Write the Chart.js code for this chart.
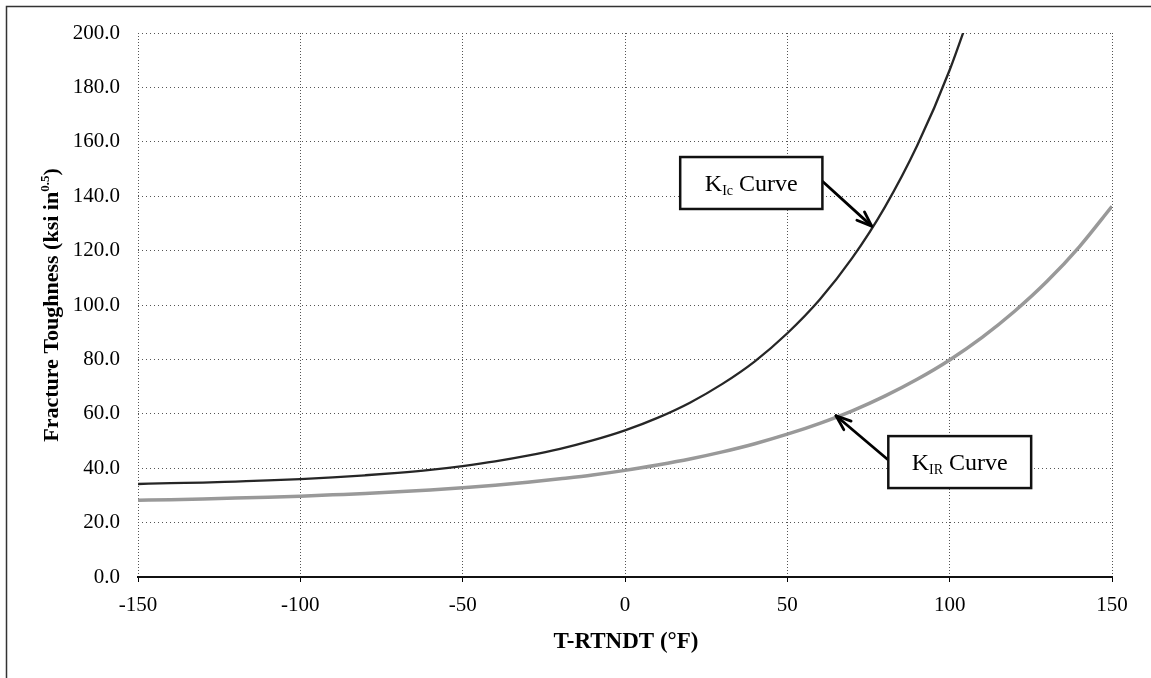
<!DOCTYPE html>
<html>
<head>
<meta charset="utf-8">
<title>Fracture Toughness Curves</title>
<script src="https://cdn.jsdelivr.net/npm/chart.js@4.4.1/dist/chart.umd.min.js"></script>
<style>
  html, body { margin: 0; padding: 0; background: #fff; }
  #wrap { width: 1151px; height: 678px; position: relative; }
  canvas { display: block; }
</style>
</head>
<body>
<div id="wrap"><canvas id="chart" width="1151" height="678"></canvas></div>
<script>
// Temperature relative to reference nil-ductility temperature, T - RTNDT (°F)
const temperatures = [-150, -140, -130, -120, -110, -100, -90, -80, -70, -60,
                      -50, -40, -30, -20, -10, 0, 10, 20, 30, 40,
                      50, 60, 70, 80, 90, 100, 110, 120, 130, 140, 150];

// K_Ic (static initiation toughness), ksi·in^0.5 — runs off the top past ~105 °F
const kIcValues = [34.2, 34.5, 34.7, 35.1, 35.5, 36.0, 36.6, 37.4, 38.3, 39.4,
                   40.8, 42.5, 44.6, 47.1, 50.2, 53.9, 58.5, 64.1, 71.0, 79.3,
                   89.6, 102.0, 117.3, 135.9, 158.6, 186.4, 220.3, null, null, null, null];

// K_IR (reference / arrest toughness), ksi·in^0.5
const kIrValues = [28.2, 28.4, 28.7, 29.0, 29.3, 29.7, 30.2, 30.7, 31.3, 32.0,
                   32.8, 33.7, 34.8, 36.1, 37.5, 39.2, 41.2, 43.4, 46.0, 49.0,
                   52.5, 56.5, 61.1, 66.5, 72.7, 79.8, 88.1, 97.7, 108.7, 121.5, 136.3];

// Axis ticks
const xTicks = [-150, -100, -50, 0, 50, 100, 150];
const yTicks = [0, 20, 40, 60, 80, 100, 120, 140, 160, 180, 200];

const SERIF = '"Liberation Serif", "Times New Roman", Times, serif';

function toPoints(xs, ys) {
  const pts = [];
  xs.forEach((x, i) => { if (ys[i] !== null) pts.push({ x: x, y: ys[i] }); });
  return pts;
}

// Callout boxes with arrows, placed in data coordinates
const callouts = [
  { main: 'K', sub: 'Ic', tail: ' Curve',
    box: { x1: 17.0, x2: 60.8, y1: 154.4, y2: 135.3 },
    from: 'right', fromY: 145.5, tip: { x: 76, y: 129 } },
  { main: 'K', sub: 'IR', tail: ' Curve',
    box: { x1: 81.1, x2: 125.1, y1: 51.8, y2: 32.7 },
    from: 'left', fromY: 43.0, tip: { x: 65, y: 59.3 } }
];

const decorPlugin = {
  id: 'decor',
  beforeDraw(chart) {
    const ctx = chart.ctx;
    ctx.save();
    ctx.fillStyle = '#fff';
    ctx.fillRect(0, 0, chart.width, chart.height);
    // outer frame (left and top edges)
    ctx.strokeStyle = '#333';
    ctx.lineWidth = 1.5;
    ctx.beginPath();
    ctx.moveTo(6.5, chart.height + 2);
    ctx.lineTo(6.5, 6.5);
    ctx.lineTo(chart.width + 2, 6.5);
    ctx.stroke();
    ctx.restore();
  },
  afterDraw(chart) {
    const ctx = chart.ctx;
    const area = chart.chartArea;
    const xs = chart.scales.x, ys = chart.scales.y;
    ctx.save();
    ctx.fillStyle = '#000';

    // y axis title with superscript exponent
    ctx.save();
    ctx.translate(58, (area.top + area.bottom) / 2);
    ctx.rotate(-Math.PI / 2);
    const big = 'bold 22px ' + SERIF, small = 'bold 13px ' + SERIF;
    const t1 = 'Fracture Toughness (ksi in', t2 = '0.5', t3 = ')';
    ctx.font = big; const w1 = ctx.measureText(t1).width, w3 = ctx.measureText(t3).width;
    ctx.font = small; const w2 = ctx.measureText(t2).width;
    let px = -(w1 + w2 + w3) / 2;
    ctx.textBaseline = 'alphabetic';
    ctx.textAlign = 'left';
    ctx.font = big; ctx.fillText(t1, px, 0); px += w1;
    ctx.font = small; ctx.fillText(t2, px, -9); px += w2;
    ctx.font = big; ctx.fillText(t3, px, 0);
    ctx.restore();

    // x axis title
    ctx.font = 'bold 23px ' + SERIF;
    ctx.textAlign = 'center';
    ctx.textBaseline = 'alphabetic';
    ctx.fillText('T-RTNDT (\u00B0F)', (area.left + area.right) / 2 + 1, 648);

    // callouts
    callouts.forEach(c => {
      const bx1 = xs.getPixelForValue(c.box.x1), bx2 = xs.getPixelForValue(c.box.x2);
      const by1 = ys.getPixelForValue(c.box.y1), by2 = ys.getPixelForValue(c.box.y2);
      const tx = xs.getPixelForValue(c.tip.x), ty = ys.getPixelForValue(c.tip.y);
      const sx = c.from === 'right' ? bx2 : bx1, sy = ys.getPixelForValue(c.fromY);

      // arrow shaft
      ctx.strokeStyle = '#000';
      ctx.lineWidth = 2.8;
      ctx.lineCap = 'round';
      ctx.beginPath();
      ctx.moveTo(sx, sy);
      ctx.lineTo(tx, ty);
      ctx.stroke();
      // arrow head
      const ang = Math.atan2(ty - sy, tx - sx);
      const len = 16, spread = 0.36;
      ctx.beginPath();
      ctx.moveTo(tx, ty);
      ctx.lineTo(tx - len * Math.cos(ang - spread), ty - len * Math.sin(ang - spread));
      ctx.moveTo(tx, ty);
      ctx.lineTo(tx - len * Math.cos(ang + spread), ty - len * Math.sin(ang + spread));
      ctx.stroke();

      // box
      ctx.fillStyle = '#fff';
      ctx.fillRect(bx1, by1, bx2 - bx1, by2 - by1);
      ctx.lineWidth = 2.5;
      ctx.strokeStyle = '#111';
      ctx.strokeRect(bx1, by1, bx2 - bx1, by2 - by1);

      // label with subscript
      const fMain = '24px ' + SERIF, fSub = '14px ' + SERIF;
      ctx.font = fMain; const m1 = ctx.measureText(c.main).width, m3 = ctx.measureText(c.tail).width;
      ctx.font = fSub; const m2 = ctx.measureText(c.sub).width;
      let lx = (bx1 + bx2) / 2 - (m1 + m2 + m3) / 2;
      const base = (by1 + by2) / 2 + 8;
      ctx.fillStyle = '#000';
      ctx.textAlign = 'left';
      ctx.font = fMain; ctx.fillText(c.main, lx, base); lx += m1;
      ctx.font = fSub; ctx.fillText(c.sub, lx, base + 4); lx += m2;
      ctx.font = fMain; ctx.fillText(c.tail, lx, base);
    });
    ctx.restore();
  }
};

new Chart(document.getElementById('chart'), {
  type: 'line',
  data: {
    datasets: [
      {
        label: 'K_IR',
        data: toPoints(temperatures, kIrValues),
        borderColor: '#999999',
        borderWidth: 3.5,
        pointRadius: 0,
        cubicInterpolationMode: 'monotone',
        fill: false
      },
      {
        label: 'K_Ic',
        data: toPoints(temperatures, kIcValues),
        borderColor: '#262626',
        borderWidth: 2.3,
        pointRadius: 0,
        cubicInterpolationMode: 'monotone',
        fill: false
      }
    ]
  },
  options: {
    responsive: false,
    animation: false,
    devicePixelRatio: 1,
    layout: { padding: { top: 33, right: 39, left: 0, bottom: 0 } },
    plugins: { legend: { display: false }, tooltip: { enabled: false }, title: { display: false } },
    scales: {
      x: {
        type: 'linear',
        min: -150, max: 150,
        afterFit(scale) { scale.height = 101; },
        afterBuildTicks(scale) { scale.ticks = xTicks.map(v => ({ value: v })); },
        ticks: {
          color: '#000',
          font: { family: SERIF, size: 21 },
          padding: 11,
          maxRotation: 0,
          callback: v => String(v)
        },
        grid: { color: '#555', lineWidth: 1, drawTicks: true, tickLength: 5, tickColor: '#000', tickBorderDash: [] },
        border: { display: true, color: '#111', width: 2, dash: [1, 2] }
      },
      y: {
        min: 0, max: 200,
        afterFit(scale) { scale.width = 138; },
        afterBuildTicks(scale) { scale.ticks = yTicks.map(v => ({ value: v })); },
        ticks: {
          color: '#000',
          font: { family: SERIF, size: 21 },
          padding: 18,
          callback: v => Number(v).toFixed(1)
        },
        grid: { color: '#555', lineWidth: 1, drawTicks: false },
        border: { display: false, dash: [1, 3] }
      }
    }
  },
  plugins: [decorPlugin]
});
</script>
</body>
</html>
